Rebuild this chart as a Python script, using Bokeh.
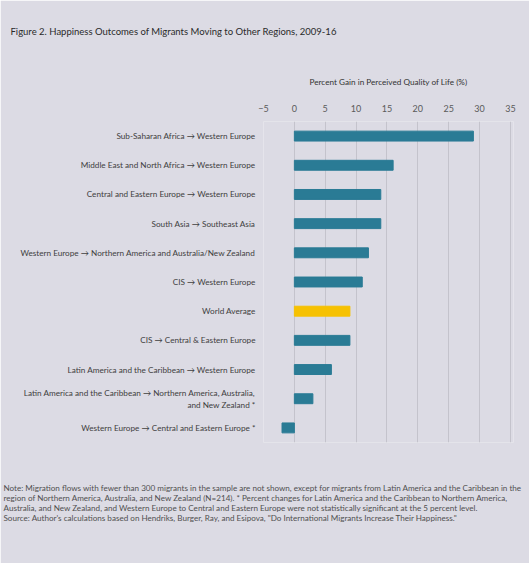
from bokeh.plotting import figure
from bokeh.models import FactorRange, LinearAxis, FixedTicker, Title, ColumnDataSource
from bokeh.embed import file_html
from bokeh.resources import INLINE

categories = [
    "Sub-Saharan Africa → Western Europe",
    "Middle East and North Africa → Western Europe",
    "Central and Eastern Europe → Western Europe",
    "South Asia → Southeast Asia",
    "Western Europe → Northern America and Australia/New Zealand",
    "CIS → Western Europe",
    "World Average",
    "CIS → Central & Eastern Europe",
    "Latin America and the Caribbean → Western Europe",
    "Latin America and the Caribbean → Northern America, Australia,\nand New Zealand *",
    "Western Europe → Central and Eastern Europe *",
]
values = [29, 16, 14, 14, 12, 11, 9, 9, 6, 3, -2]
x_ticks = [-5, 0, 5, 10, 15, 20, 25, 30, 35]

TEAL = "#2a7b95"
YELLOW = "#f6c102"
BG = "#dcdbe4"
colors = [YELLOW if c == "World Average" else TEAL for c in categories]

src = ColumnDataSource(dict(cat=categories, val=values, color=colors))

W, H = 529, 563
FRAME_LEFT = 263
p = figure(width=W, height=H, output_backend="svg", toolbar_location=None,
           y_range=FactorRange(factors=list(reversed(categories))),
           x_range=(-5, 35.5), x_axis_location=None,
           min_border_left=FRAME_LEFT, min_border_right=16, min_border_top=121,
           min_border_bottom=121)
p.background_fill_color = BG
p.border_fill_color = BG
p.outline_line_color = None

p.hbar(y="cat", left=0, right="val", height=0.34, color="color", source=src)

top_axis = LinearAxis(ticker=FixedTicker(ticks=x_ticks),
                      axis_label="Percent Gain in Perceived Quality of Life (%)")
top_axis.axis_line_color = None
top_axis.major_tick_line_color = None
top_axis.minor_tick_line_color = None
top_axis.major_label_text_font = "Lato"
top_axis.major_label_text_font_size = "9px"
top_axis.major_label_text_color = "#5a5a5a"
top_axis.major_label_standoff = 4
top_axis.axis_label_text_font = "Lato"
top_axis.axis_label_text_font_size = "8.2px"
top_axis.axis_label_text_font_style = "normal"
top_axis.axis_label_text_color = "#333333"
top_axis.axis_label_standoff = 15
p.add_layout(top_axis, "above")

# spacer between axis label and the figure title
p.add_layout(Title(text=" ", standoff=34, text_font_size="1px"), "above")
p.add_layout(Title(text="Figure 2. Happiness Outcomes of Migrants Moving to Other Regions, 2009-16",
                   align="left", offset=-(FRAME_LEFT - 10), standoff=0,
                   text_font="Lato", text_font_size="9.5px", text_font_style="normal",
                   text_color="#2a2a2a"), "above")

p.xgrid.ticker = FixedTicker(ticks=x_ticks)
p.xgrid.grid_line_color = "#c4c3cc"
p.ygrid.grid_line_color = None

ya = p.yaxis[0]
ya.axis_line_color = None
ya.major_tick_line_color = None
ya.minor_tick_line_color = None
ya.major_label_text_font = "Lato"
ya.major_label_text_font_size = "8.2px"
ya.major_label_text_color = "#404040"
ya.major_label_standoff = 2

notes = [
    "Note: Migration flows with fewer than 300 migrants in the sample are not shown, except for migrants from Latin America and the Caribbean in the",
    "region of Northern America, Australia, and New Zealand (N=214). * Percent changes for Latin America and the Caribbean to Northern America,",
    "Australia, and New Zealand, and Western Europe to Central and Eastern Europe were not statistically significant at the 5 percent level.",
    "Source: Author's calculations based on Hendriks, Burger, Ray, and Esipova, \"Do International Migrants Increase Their Happiness.\"",
]
p.add_layout(Title(text="\n".join(notes), align="left", offset=-(FRAME_LEFT - 3),
                   standoff=77,
                   text_font="Lato", text_font_size="8.1px", text_font_style="normal",
                   text_color="#505050", text_line_height=1.0), "below")

open("out.html", "w").write(file_html(p, INLINE))
